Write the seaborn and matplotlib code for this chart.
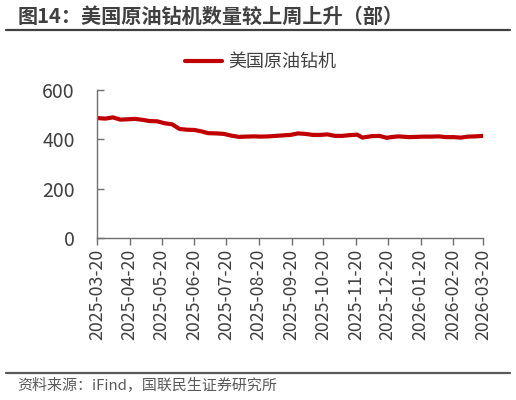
import matplotlib
matplotlib.use("Agg")
import matplotlib.pyplot as plt
import matplotlib.dates as mdates
from matplotlib.lines import Line2D
import seaborn as sns
import pandas as pd

dates = [
    "2025-03-21", "2025-03-28", "2025-04-04", "2025-04-11", "2025-04-17", "2025-04-25",
    "2025-05-02", "2025-05-09", "2025-05-16", "2025-05-23", "2025-05-30", "2025-06-06",
    "2025-06-13", "2025-06-20", "2025-06-27", "2025-07-03", "2025-07-11", "2025-07-18",
    "2025-07-25", "2025-08-01", "2025-08-08", "2025-08-15", "2025-08-22", "2025-08-29",
    "2025-09-05", "2025-09-12", "2025-09-19", "2025-09-26", "2025-10-03", "2025-10-10",
    "2025-10-17", "2025-10-24", "2025-10-31", "2025-11-07", "2025-11-14", "2025-11-21",
    "2025-11-26", "2025-12-05", "2025-12-12", "2025-12-19", "2025-12-23", "2025-12-30",
    "2026-01-09", "2026-01-16", "2026-01-23", "2026-01-30", "2026-02-06", "2026-02-13",
    "2026-02-20", "2026-02-27", "2026-03-06", "2026-03-13", "2026-03-20",
]
rigs = [
    486, 484, 489, 480, 481, 483,
    479, 474, 473, 465, 461, 442,
    439, 438, 432, 425, 424, 422,
    415, 410, 411, 412, 411, 412,
    414, 416, 418, 424, 422, 418,
    418, 420, 414, 414, 417, 419,
    407, 413, 414, 406, 409, 412,
    409, 410, 411, 411, 412, 409,
    409, 407, 411, 412, 414,
]
series_name = "美国原油钻机"
title = "图14：美国原油钻机数量较上周上升（部）"
source = "资料来源：iFind，国联民生证券研究所"
tick_dates = [
    "2025-03-20", "2025-04-20", "2025-05-20", "2025-06-20", "2025-07-20", "2025-08-20",
    "2025-09-20", "2025-10-20", "2025-11-20", "2025-12-20", "2026-01-20", "2026-02-20",
    "2026-03-20",
]
y_ticks = [0, 200, 400, 600]

sns.set_theme(style="white")
plt.rcParams["font.family"] = ["Noto Sans CJK SC", "DejaVu Sans"]

df = pd.DataFrame({"date": pd.to_datetime(dates), "value": rigs})

fig = plt.figure(figsize=(5.16, 4.0), dpi=100)
ax = fig.add_axes([0.188, 0.405, 0.748, 0.37])

sns.lineplot(data=df, x="date", y="value", ax=ax, color="#C00000",
             linewidth=3.0, legend=False)

ax.set_xlim(pd.Timestamp(tick_dates[0]), pd.Timestamp(tick_dates[-1]))
ax.set_ylim(0, 600)
ax.set_yticks(y_ticks)
ax.set_xticks(pd.to_datetime(tick_dates))
ax.xaxis.set_major_formatter(mdates.DateFormatter("%Y-%m-%d"))
ax.set_xlabel("")
ax.set_ylabel("")

for s in ["top", "right"]:
    ax.spines[s].set_visible(False)
for s in ["left", "bottom"]:
    ax.spines[s].set_color("#707070")
    ax.spines[s].set_linewidth(1.0)

ax.tick_params(axis="y", direction="in", length=5, width=1, color="#707070",
               labelsize=14, labelcolor="#404040", pad=16, left=True)
ax.tick_params(axis="x", direction="out", length=5, width=1, color="#707070",
               labelsize=12.8, labelcolor="#404040", rotation=90, bottom=True, pad=3)
ax.grid(False)

handle = Line2D([0], [0], color="#C00000", linewidth=3.0)
ax.legend([handle], [series_name], loc="center", bbox_to_anchor=(0.506, 0.845),
          bbox_transform=fig.transFigure, frameon=False, fontsize=13,
          handlelength=2.0, handletextpad=0.4, labelcolor="#404040")

fig.text(0.035, 0.958, title, fontsize=14.5, fontweight="bold", color="#404040",
         va="center", ha="left")
fig.add_artist(Line2D([0.012, 0.988], [0.926, 0.926], transform=fig.transFigure,
                      color="#404040", linewidth=1.6))
fig.add_artist(Line2D([0.012, 0.988], [0.068, 0.068], transform=fig.transFigure,
                      color="#595959", linewidth=1.6))
fig.text(0.033, 0.036, source, fontsize=10.8, color="#595959", va="center", ha="left")

fig.savefig("out.png", dpi=100)
